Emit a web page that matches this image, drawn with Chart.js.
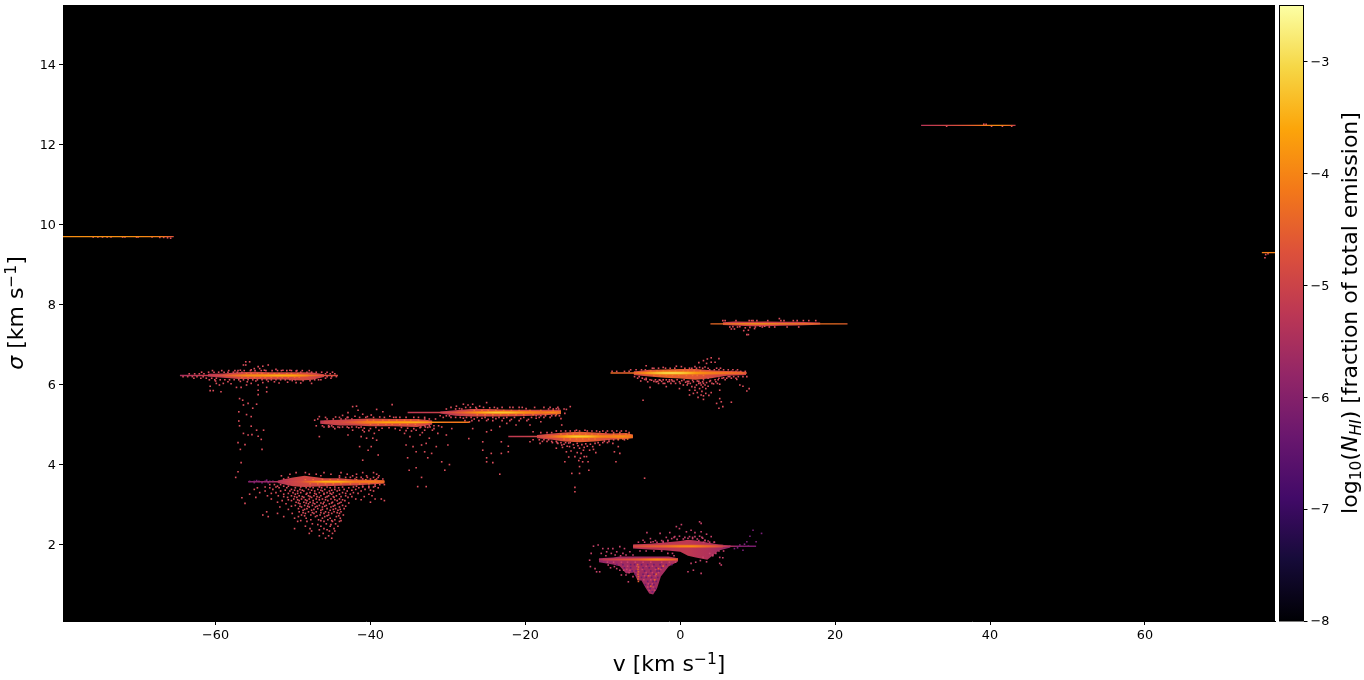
<!DOCTYPE html>
<html>
<head>
<meta charset="utf-8">
<title>sigma vs v</title>
<script src="https://cdn.jsdelivr.net/npm/chart.js@4/dist/chart.umd.min.js"></script>
<style>
  body { margin: 0; background: #fff; width: 1364px; height: 680px; overflow: hidden; position: relative; }
  canvas { position: absolute; top: 0; }
  #histChart { left: 0; }
  #barChart { left: 1276px; }
</style>
</head>
<body>
<canvas id="histChart" width="1364" height="680"></canvas>
<canvas id="barChart" width="88" height="680"></canvas>
<script>
// axis ranges and ticks
const xRange = [-79.7, 76.8];
const yRange = [0.09, 15.49];
const barRange = [-8, -2.5];
const xTicks = [-60, -40, -20, 0, 20, 40, 60];
const yTicks = [2, 4, 6, 8, 10, 12, 14];
const barTicks = [-8, -7, -6, -5, -4, -3];

// inferno colormap stops, evenly spaced over barRange
const inferno = [[0,0,4],[22,11,57],[66,10,104],[106,23,110],[147,38,103],[188,55,84],[221,81,58],[243,120,25],[252,165,10],[246,215,70],[252,255,164]];

// thin isolated lines: v, log N
const sigmaA = 9.7;
const coreV_A = [-79.7, -75, -70, -67, -65.4];
const coreN_A = [-3.9, -3.85, -3.9, -4.1, -4.7];
const sigmaB = 12.48;
const coreV_B = [31.1, 32, 35, 37, 39, 41, 42.5, 43.3];
const coreN_B = [-5.3, -5.2, -4.9, -4.6, -4.2, -3.9, -4.3, -5.2];
const sigmaC = 9.3;
const coreV_C = [75.1, 76.8];
const coreN_C = [-4.1, -4];

// ridge D
const sigmaD = 7.52;
const coreV_D = [3.9, 6, 8, 10, 12, 14, 16, 18, 20, 21.6];
const coreN_D = [-4.4, -4.2, -3.8, -3.6, -3.8, -4, -4.1, -4.3, -4.3, -4.5];
const haloV_D = [5.5, 7, 9, 11, 13, 15, 17, 18.1];
const haloUp_D = [7.56, 7.58, 7.57, 7.58, 7.57, 7.57, 7.56, 7.55];
const haloDown_D = [7.49, 7.48, 7.46, 7.46, 7.47, 7.48, 7.49, 7.5];
const haloN_D = [-5.1, -5.1, -5, -5, -5.1, -5.1, -5.1, -5.2];

// ridge E
const sigmaE = 6.29;
const coreV_E = [-9, -7.5, -6, -4.5, -3, -2, -1, 0, 1, 2, 3.5, 5, 6.5, 8, 8.6];
const coreN_E = [-4.3, -4.5, -4.3, -3.8, -3.2, -3, -2.95, -3.05, -3.3, -3.7, -4, -4.1, -4.2, -4.3, -4.6];
const midV_E = [-6, -4, -2, 0, 2, 4, 6, 8];
const midN_E = [-4.9, -4.1, -3.6, -3.6, -4, -4.2, -4.5, -4.8];
const haloV_E = [-6, -4, -2, 0, 2, 4, 6, 8.5];
const haloUp_E = [6.33, 6.37, 6.38, 6.39, 6.39, 6.36, 6.34, 6.32];
const haloDown_E = [6.24, 6.2, 6.17, 6.15, 6.12, 6.16, 6.22, 6.24];
const haloN_E = [-5, -4.7, -4.4, -4.5, -4.6, -4.8, -5, -5];

// ridge F
const sigmaF = 6.23;
const coreV_F = [-64.6, -62, -60, -58, -56, -54, -52, -50, -48, -46, -44.2];
const coreN_F = [-5.5, -5.2, -5, -4.4, -3.9, -3.8, -3.5, -3.6, -4.1, -4.7, -4.8];
const midV_F = [-59, -56, -53, -50, -48];
const midN_F = [-5, -4.4, -4.2, -4.2, -4.6];
const haloV_F = [-61, -59, -57, -55, -53, -51, -49, -47.5, -46];
const haloUp_F = [6.27, 6.28, 6.31, 6.32, 6.31, 6.31, 6.31, 6.3, 6.26];
const haloDown_F = [6.2, 6.17, 6.14, 6.14, 6.13, 6.13, 6.1, 6.12, 6.19];
const haloN_F = [-5.3, -5.1, -4.9, -4.8, -4.8, -4.9, -4.8, -4.9, -5.1];

// ridge G
const sigmaG = 5.3;
const coreV_G = [-35.2, -32, -30, -28, -26, -24, -22, -20, -18, -16.5, -15.4];
const coreN_G = [-5.2, -5.1, -4.9, -4.4, -3.7, -3.2, -3.3, -3.9, -4.2, -3.9, -4.4];
const midV_G = [-29, -26, -23, -20, -17, -15.4];
const midN_G = [-5, -4.3, -3.9, -4.2, -4.4, -4.3];
const haloV_G = [-31, -29, -27, -25, -23, -21, -19, -17, -15.4];
const haloUp_G = [5.33, 5.36, 5.39, 5.39, 5.38, 5.37, 5.37, 5.37, 5.37];
const haloDown_G = [5.28, 5.22, 5.2, 5.2, 5.2, 5.21, 5.22, 5.24, 5.26];
const haloN_G = [-5.4, -5.1, -4.9, -4.8, -4.7, -4.8, -4.9, -4.9, -4.9];

// ridge H
const sigmaH = 5.06;
const coreV_H = [-46, -44, -42, -40, -38, -36, -34, -32, -30, -28, -27.2];
const coreN_H = [-5, -4.9, -4.5, -4, -3.6, -3.6, -3.5, -3.9, -4.2, -4.1, -4.3];
const midV_H = [-46, -43, -40.5, -38, -35, -32.5];
const midN_H = [-5, -4.9, -4.2, -4.2, -4.2, -4.5];
const haloV_H = [-46.5, -44, -42, -40, -37, -34, -32];
const haloUp_H = [5.1, 5.12, 5.14, 5.15, 5.14, 5.14, 5.1];
const haloDown_H = [5.02, 4.98, 4.98, 4.96, 4.96, 4.94, 5];
const haloN_H = [-5.2, -5, -5, -4.8, -4.8, -4.8, -5];

// ridge I
const sigmaI = 4.7;
const coreV_I = [-22.2, -20, -18, -16.5, -15, -13.5, -12, -10.5, -9, -7.5, -6.1];
const coreN_I = [-5.2, -5.1, -4.9, -4.4, -3.7, -3.2, -3.3, -3.9, -4.1, -3.9, -4.3];
const midV_I = [-18.5, -16, -14, -12, -10, -8, -6.2];
const midN_I = [-5, -4.4, -3.7, -3.8, -4.3, -4.1, -4.2];
const haloV_I = [-18.5, -16.5, -15, -13, -11, -9, -7, -6.1];
const haloUp_I = [4.74, 4.78, 4.8, 4.82, 4.8, 4.78, 4.79, 4.75];
const haloDown_I = [4.66, 4.62, 4.58, 4.56, 4.58, 4.62, 4.64, 4.66];
const haloN_I = [-5.1, -4.9, -4.7, -4.5, -4.6, -4.7, -4.6, -4.6];

// ridge J
const sigmaJ = 3.57;
const coreV_J = [-55.8, -53, -51, -49, -47.5, -46, -44, -42, -40, -38.2];
const coreN_J = [-6, -5.7, -5.1, -4.8, -4.1, -3.5, -3.5, -4.2, -4.1, -4.4];
const midV_J = [-51, -48, -45, -42, -39, -38.2];
const midN_J = [-5.2, -4.7, -4.1, -4.4, -4.3, -4.4];
const haloV_J = [-52, -50, -48.5, -46, -44, -42, -40, -38.2];
const haloUp_J = [3.6, 3.68, 3.72, 3.66, 3.66, 3.63, 3.62, 3.6];
const haloDown_J = [3.54, 3.46, 3.44, 3.46, 3.47, 3.48, 3.5, 3.53];
const haloN_J = [-5.4, -5, -4.9, -4.9, -4.9, -4.9, -4.9, -5];

// ridge K
const sigmaK = 1.96;
const coreV_K = [-6.1, -4, -2, 0, 1.5, 3, 4.5, 6, 7.5, 9.8];
const coreN_K = [-4.9, -4.6, -4.4, -4, -3.9, -4.3, -4.6, -5.2, -6, -6.2];
const midV_K = [-6, -3, 0, 2, 4, 5.5];
const midN_K = [-5, -4.8, -4.4, -4.4, -4.8, -5.2];
const haloV_K = [-6.1, -4, -2, 0, 1, 2, 3.5, 5, 6.5];
const haloUp_K = [2, 2.02, 2.05, 2.09, 2.12, 2.1, 2.05, 2, 1.98];
const haloDown_K = [1.9, 1.88, 1.86, 1.82, 1.72, 1.68, 1.62, 1.85, 1.93];
const haloN_K = [-5.4, -5.3, -5.3, -5.2, -5.2, -5.3, -5.4, -5.6, -5.9];

// ridge L
const sigmaL = 1.63;
const coreV_L = [-10.5, -9, -7, -5.5, -4, -3, -2, -1, -0.3];
const coreN_L = [-5.4, -5, -4.7, -4.5, -4.1, -3.9, -4.1, -4.3, -4.6];
const midV_L = [-10, -7, -4.5, -3, -1, -0.3];
const midN_L = [-5.5, -5.3, -4.9, -4.6, -5, -5.1];
const haloV_L = [-10.5, -8.7, -7.8, -7, -6, -5.5, -5, -4.5, -4, -3.5, -3, -2.5, -1.5, -0.3];
const haloUp_L = [1.66, 1.68, 1.7, 1.7, 1.7, 1.7, 1.7, 1.7, 1.7, 1.7, 1.7, 1.7, 1.7, 1.66];
const haloDown_L = [1.56, 1.5, 1.46, 1.28, 1.3, 1.1, 1.1, 0.93, 0.78, 0.75, 0.9, 1.2, 1.45, 1.58];
const haloN_L = [-5.8, -5.7, -5.6, -5.6, -5.6, -5.6, -5.6, -5.6, -5.6, -5.6, -5.6, -5.6, -5.5, -5.4];

// scattered cells, flat v,sigma pairs
const cellsA = [-75.8,9.69, -75.2,9.69, -74.6,9.69, -74,9.69, -73.5,9.69, -72,9.69, -71.7,9.69, -70.2,9.69, -70,9.69, -68.2,9.69, -67.2,9.68, -66.7,9.68, -66.2,9.67, -65.8,9.66];
const cellsB = [39.2,12.51, 39.5,12.51, 40.2,12.46, 41.6,12.46, 34.4,12.46, 42.8,12.46];
const cellsC = [75.6,9.25, 75.5,9.17, 75.9,9.27];
const cellsD = [6.8,7.45, 6.6,7.39, 7,7.39, 7.7,7.45, 8.8,7.36, 8.2,7.35, 8.8,7.25, 8.6,7.25, 9.6,7.4, 5.5,7.6, 9.2,7.6, 12.8,7.65, 10.3,7.46, 10.9,7.46, 9,7.43, 8.4,7.42];
const cellsE = [4,6.67, 3.5,6.64, 4.5,6.56, 5,6.65, 3,6.6, 2.4,6.55, 3.4,6.53, 4,6.56, -0.5,6.46, 1.9,6.45, 2.5,6.43, -4.4,6.47, 4.7,6.41, 0.15,6.45, -2.2,6.43, -3.4,6.41, 3.2,6.44, 1.2,6.41,
  -4.2,6.07, -3.9,5.93, -3.1,6.07, -1.8,5.95, -1.6,6.07, -2.2,6.03, -0.1,6.07, 0.4,5.99, 0.9,5.99, -0.1,5.9, 1.2,5.86, 1.9,5.86, 2.5,5.9, 3.3,5.9, 2.9,6.07, 3.6,6.16, 1.7,6.07, 2.1,5.99, 2.7,5.99, 3.2,5.99, 1.2,5.74, 2.3,5.68, 2.7,5.74, 3,5.63, 3.3,5.78, 4,5.8, 5.1,5.86, 5.1,5.65, 5.3,5.57, 4.7,5.53, 6.6,5.56, 5,5.41, 5.5,5.45, 7.3,6.13, 7.7,5.99, 8.1,5.96, 8.9,5.9, 8.6,5.84, 5.1,6.01, 4.6,6.07, -4.8,5.61, -5.1,6.09, 6.4,6.2,
  -4.6,6.13, -3.7,6.11, -2.6,6.11, -1.4,6.12, -1,6.09, -0.6,6.03, 0.2,6.1, 0.7,6.06, 1.3,6.03, 1.6,6.11, 2.2,6.09, 2.6,6.04, 3,6.12, 3.4,6.05, 3.9,6.1, 4.3,6.02, 4.9,6.12, 5.6,6.17, 1.5,5.95, 1.9,5.93, 2.9,5.94, 3.6,5.96, 2.2,5.8, 2.8,5.83, 1.7,5.78, 3.7,5.73, 3,5.72];
const cellsF = [-56.1,6.57, -55.6,6.57, -56.4,6.49, -56.1,6.49, -55,6.4, -54.5,6.45, -54.3,6.4, -53.2,6.49, -53.9,6.46, -53.7,6.36, -52.2,6.38, -51.3,6.36, -57.5,6.35, -56.8,6.36, -55.4,6.37, -50.4,6.36, -49.6,6.34,
  -60.7,5.96, -60.7,5.85, -60.3,5.85, -59.5,5.99, -59.3,5.82, -59.9,6.03, -59,6.03, -58.4,6.07, -57.3,5.93, -56.7,5.93, -56,5.99, -55.4,6.03, -54.5,5.99, -54.5,5.86, -53.4,5.93, -53.4,5.82, -54.5,5.75, -49.6,6.05, -48.7,6.1, -47.8,6.1, -60,6.09, -58,6.02, -56.8,6.08, -55.9,6.07, -54.8,6.09, -53.9,6.05, -53.2,6.08, -52.4,6.07, -51.8,6.04, -50.7,6.06, -50.1,6.1, -49,6.04, -47.6,6.03, -46.4,6.12,
  -56.9,5.65, -56.5,5.61, -56.4,5.49, -55.8,5.53, -55.2,5.41, -54.7,5.51, -57,5.32, -56,5.25, -55.4,5.2, -57,5.09, -56.9,4.97, -55.4,4.96, -54.7,4.86, -53.8,4.86, -56.4,4.78, -55.8,4.74, -55.3,4.75, -54.5,4.71, -54.1,4.63, -57.1,4.55, -56.2,4.5, -56.8,4.38, -54,4.38, -56.7,4.05, -57.1,3.82, -57.4,3.68, -56.6,3.17, -56.2,3.03];
const cellsH = [-42.3,5.45, -41.8,5.46, -42.9,5.3, -41.6,5.36, -41,5.26, -39.2,5.38, -38.4,5.32, -37.2,5.5, -39.9,5.24, -37.5,5.21, -46.6,5.2, -47.2,5.11, -42.9,5.18, -42,5.21, -44.5,5.19, -43.6,5.23, -40.4,5.2, -38.8,5.19, -36.7,5.18,
  -45.3,4.95, -44.6,4.9, -46.6,4.7, -42.9,4.74, -41.2,4.7, -40.5,4.66, -39.7,4.66, -39.2,4.61, -42.3,4.86, -40.8,4.82, -41.4,4.45, -41,4.11, -40.3,4.36, -39.9,4.45, -39,4.24, -36.2,4.86, -35.6,4.78, -34.9,4.7, -34.1,4.86, -33.6,4.74, -33,4.86, -32.4,4.66, -31.3,4.78, -30.2,4.74, -35.4,4.49, -34.5,4.45, -33.4,4.49, -32.8,4.53, -31.5,4.45, -30,4.49, -33,4.32, -32.6,4.17, -32.1,4.28, -34.1,4.32, -35.2,4.17, -29.8,4, -35,3.86, -34.1,3.92, -33.4,3.68, -32.8,3.45, -33.9,3.45, -30.4,3.86, -30.8,4.07, -39.5,4.78,
  -44,4.93, -42.8,4.92, -41.5,4.92, -40.8,4.91, -40,4.9, -39.3,4.93, -38.5,4.91, -37.6,4.92, -36.8,4.9, -36,4.93, -35.2,4.91, -34.4,4.9, -33.6,4.92, -32.6,4.93, -31.8,4.9, -41,4.86, -40.2,4.85, -38.9,4.86, -35.4,4.85, -34.7,4.84, -33.3,4.8, -32,4.86, -29.5,4.9, -30.8,4.94];
const cellsG = [-28.9,5.46, -28,5.51, -27.4,5.49, -26.8,5.51, -25.9,5.46, -25,5.55, -28.5,5.4, -26.3,5.4, -22,5.43, -19.9,5.4, -16,5.4, -14.7,5.38, -14.2,5.45, -14.9,5.28, -15.4,5.15, -15.3,4.99, -27.7,5.43, -24.6,5.42, -23.6,5.41,
  -27.2,5.07, -26.8,4.9, -25,4.82, -24.4,4.86, -23.3,4.95, -22.4,5.03, -21.2,4.99, -19.4,4.99, -19,4.82, -18,5.07, -27.3,4.65, -25.5,4.57, -25.5,4.36, -25,4.17, -25,4.07, -24.2,4.05, -24.4,4.28, -23.1,4.57, -23.1,4.28, -22.2,4.32, -22.2,4.46, -23.3,3.76,
  -28,5.16, -26.6,5.14, -25.6,5.16, -24.8,5.13, -23.8,5.15, -22.8,5.16, -21.8,5.13, -20.6,5.15, -19.6,5.13, -18.6,5.16];
const cellsI = [-16,4.41, -15.3,4.49, -14.7,4.32, -14.3,4.45, -13.6,4.2, -13,4.41, -12.8,4.28, -12.1,4.2, -11.7,4.36, -11.3,4.45, -10.4,4.49, -12.6,4.07, -13,3.95, -11.9,4.07, -14.9,4.07, -14,3.78, -13,3.78, -11.8,3.86, -13.6,3.43, -13.6,3.32, -8.7,4.53, -8.5,4.32, -8.3,4.07, -7.8,4.28, -8,4.45, -19.4,4.57, -18.1,4.53, -12.3,4.86, -13.4,4.86, -10.4,4.82, -4.6,3.66,
  -15.8,4.53, -15,4.51, -14.4,4.54, -13.8,4.5, -13.3,4.53, -12.7,4.5, -12.2,4.52, -11.6,4.51, -11,4.53, -15.2,4.43, -14.6,4.46, -13.7,4.42, -13.2,4.47, -12.4,4.43, -12,4.46, -11.2,4.38, -14.1,4.34, -13.3,4.3, -12.5,4.36, -12.9,4.16, -12.4,4.2, -13.1,4.1, -14.4,4.19, -10.9,4.3];
const cellsK = [0.15,2.5, 2.5,2.57, 2.7,2.53, -0.5,2.45, -0.1,2.4, 0.8,2.32, 1.4,2.36, 1.9,2.3, 2.7,2.32, 3.4,2.26, 1.9,2.2, 2.5,2.21, -0.1,2.21, -0.7,2.2, -2.6,2.28, -4.3,2.3, -3.85,2.15, -3.5,2.07, -4.8,2.11, -1.35,2.3, -1.1,2.15, 1.2,2.2, 4,2.2, 3.2,2.11,
  5.1,1.68, 5.5,1.67, 5.1,1.53, 5.3,1.49, 1.4,1.53, 1,1.32, 1.7,1.36, 2.7,1.28, 3.4,1.57, 2.95,1.68, 4.2,1.74, 2.6,1.6, 2,1.56,
  0.4,2.14, 1,2.16, 1.6,2.15, 2.2,2.14, 2.9,2.16, -0.4,2.13, -1.6,2.1, -2.2,2.08, 3.6,2.09, 4.4,2.06];
const cellsL = [-11.2,1.96, -10.6,1.99, -11.5,1.78, -11.7,1.61, -11.6,1.45, -11,1.4, -10.4,1.32, -10.8,1.32, -10,1.9, -9.3,1.9, -8.7,1.9, -7.8,1.95, -7.2,1.9, -9.5,1.82, -8.9,1.78, -8.2,1.82, -7.4,1.78, -6.5,1.82, -6.1,1.74, -10.2,1.78, -9.6,1.72, -8.4,1.74, -7.7,1.72, -7,1.74,
  -9.3,1.49, -8.5,1.45, -7.8,1.36, -7.6,1.24, -7,1.24, -6.7,1.07, -6.5,1.36, -6.1,1.2, -9,1.42, -8.2,1.4, -7.3,1.36];
const cellsStripe = [-5.5,1.5, -5.4,1.44, -5.45,1.38, -5.4,1.32, -5.45,1.26, -5.4,1.2, -5.45,1.14, -5.4,1.08, -3.3,1.12, -3.1,1.26, -4.1,1.22, -3.8,0.96, -2.8,1.4, -2.2,1.46];
const cellsTailK = [6.4,1.96, 7,1.9, 7.7,1.99, 8.1,1.86, 8.6,2.07, 8.8,1.96, 9,2.21, 9.4,2.36, 9.8,2.07, 10.5,2.28, 8.3,2.01, 7.4,1.92];
const cellsTailJ = [-55.6,3.58, -55,3.58, -54.4,3.58, -53.6,3.58, -53,3.58, -52.6,3.58, -55,3.55, -54,3.55, -53.2,3.55, -54.7,3.6, -53.4,3.61];

// cell rows, [sigma, [v, ...]]
const rowsJ = [
  [3.8, [-49.6, -48.4, -46, -43.8, -41, -39.6]],
  [3.76, [-50.4, -47.9, -47, -45.1, -43, -41.8, -39.2]],
  [3.72, [-51.5, -46.4, -44, -42.3, -40.5, -38.9]],
  [3.68, [-50.6, -44, -43.2, -42.6, -41.8, -41.2, -40.4, -39.6, -39]],
  [3.64, [-51.2, -42, -41, -40, -39.2, -38.4]],
  [3.5, [-53, -52.4, -51.6, -39.4, -38.8, -38.2]],
  [3.46, [-52, -51.2, -50.6, -41.8, -41, -40.2, -39.4]],
  [3.44, [-53.6, -52.2, -49, -47.8, -46.6, -45.6, -44.6, -43.6, -42.2, -41, -39.6]],
  [3.42, [-54.6, -53, -51.8, -50.8, -49.7, -48.3, -47.4, -46.3, -45.2, -44.1, -42.8, -41.5, -40.2, -39]],
  [3.38, [-55, -52.6, -50.2, -49.1, -48, -46.8, -45.9, -44.6, -43.4, -41.9, -40.7]],
  [3.36, [-51, -49.8, -48.8, -47.6, -46.4, -45, -44, -42.4, -40]],
  [3.34, [-53.6, -51.6, -50.4, -49.4, -48.6, -47.2, -46.2, -45.3, -44.3, -43, -41.2, -39.6]],
  [3.3, [-54.3, -52.2, -50, -49, -47.8, -46.6, -45.6, -44.8, -43.6, -42.2]],
  [3.28, [-52.8, -50.6, -49.4, -48.2, -47.2, -46, -45.2, -43.2, -41.6]],
  [3.26, [-55.6, -51.2, -49.7, -48.3, -47, -46, -45, -44, -42.6, -40.2]],
  [3.22, [-53.3, -51.9, -50.2, -49.2, -48, -47.3, -46.4, -45.4, -44.4, -43.2, -39.8]],
  [3.2, [-51.2, -49.8, -48.8, -47.8, -46.9, -45.6, -44.8, -43.8, -42.4, -40.8]],
  [3.18, [-54.8, -50.7, -49.5, -48.6, -47.6, -46.6, -45.8, -44.7, -42.9]],
  [3.14, [-52.8, -49.9, -48.9, -47.9, -47, -46.2, -45.1, -44, -41.9, -39.4, -38.6]],
  [3.12, [-50.6, -49.4, -48.4, -46.6, -45.8, -44.6, -43.6, -41.2]],
  [3.1, [-51.4, -50.2, -49.2, -48.2, -47.4, -45.5, -44.3, -43.3, -38.2]],
  [3.06, [-52, -49.6, -48.6, -47.8, -46.9, -46, -44.9, -43.8, -40]],
  [3.04, [-49.3, -48.3, -47.4, -46.4, -45, -44, -42.8]],
  [3.02, [-50.9, -49.1, -48, -47.2, -46.1, -45.3, -44.2]],
  [2.98, [-49.7, -48.5, -47.5, -46.6, -45.7, -44.6, -43.6]],
  [2.96, [-50.2, -49.1, -48.1, -46.9, -45.9, -44.8, -43.2]],
  [2.94, [-51.7, -48.9, -47.9, -47.1, -46.2, -45.1, -44]],
  [2.9, [-49.3, -48.2, -46.8, -45.6, -44.5, -43.4]],
  [2.88, [-50.6, -48.5, -47.3, -46.2, -44.8, -43.9]],
  [2.86, [-48.7, -47.6, -46.4, -45.2, -44.2]],
  [2.82, [-53.4, -49.2, -48, -47, -45.8, -44.7, -43.8]],
  [2.8, [-48.7, -47.5, -46.4, -45.4, -44.3]],
  [2.78, [-52, -50.1, -48.4, -47.3, -46, -45, -44]],
  [2.74, [-53.9, -48.9, -47.7, -46.5, -45.4, -43.5]],
  [2.72, [-48.5, -46.9, -45.6, -44.1]],
  [2.7, [-53.2, -51.2, -49.3, -47.1, -45.9, -44.4]],
  [2.66, [-49.8, -48.3, -46.2, -45.2, -43.9]],
  [2.62, [-47.7, -46.7, -45.5, -44.6]],
  [2.6, [-49, -46.4, -45, -43.8]],
  [2.58, [-49.4, -48.2, -46, -44.9, -44]],
  [2.52, [-47.5, -45.7, -44.5]],
  [2.5, [-46.8, -45.1]],
  [2.46, [-48.4, -46.4, -45.2, -44.2]],
  [2.4, [-49.8, -47.8, -46, -44.7]],
  [2.37, [-46.6, -45.6]],
  [2.34, [-47.6, -45.3, -44.6]],
  [2.28, [-47.9, -46.1, -44.9]],
  [2.22, [-46.6, -45.4]],
  [2.16, [-45.8, -45]]
];
const edgeRowsD = [
  [7.6, [5.8, 7.2, 8.9, 9.4, 9.9, 11.3, 13, 13.4, 14.6, 15.1, 15.9, 16.6, 17.5]],
  [7.44, [6.4, 7.4, 9.7, 10.6, 11.5, 12.2, 13.8, 15.3]]
];
const edgeRowsE = [
  [6.41, [-3.6, -2.8, -1.9, -1.3, -0.7, 0.6, 1.5, 2.1, 2.9, 3.6, 5.2]],
  [6.37, [-6.4, -5.7, -5, -4.5, 3.8, 4.4, 5, 5.6, 6.2, 6.8, 7.4]],
  [6.33, [-8.8, -8.2, -7.2, -6.6, 6.6, 7.2, 7.8, 8.4]],
  [6.2, [-5.9, -5.3, 6.2, 6.9, 7.5, 8.1, 8.6]],
  [6.16, [-5.5, -4.9, -4.4, 5, 5.4, 6, 6.6, 7.2]],
  [6.12, [-4.4, -3.9, -3.2, -2.7, -2.2, -1.8, -1.1, -0.4, 0.5, 4.5, 5.8]],
  [6.08, [-3.4, -2.9, -2.4, -1.4, -0.8, 0.9, 1.1, 2.4, 3.8]],
  [6.03, [-2.8, -2, -1.2, 0, 1, 2.4, 3, 4.1, 4.8]]
];
const edgeRowsF = [
  [6.35, [-60.4, -59.2, -58.3, -57.1, -56.3, -55.5, -54.9, -54.1, -53.5, -52.7, -52, -51.5, -50.8, -50.2, -49.5, -48.8, -47.9]],
  [6.31, [-61.8, -60.9, -60.2, -59.6, -58.9, -58.4, -57.7, -57.2, -56.6, -49, -48.2, -47.6, -47, -46.3, -45.6, -44.9]],
  [6.27, [-63.4, -62.7, -62.1, -61.5, -45.8, -45.2, -44.6]],
  [6.2, [-64.2, -63.6, -63, -62.4, -61.6, -45.6, -45, -44.4]],
  [6.16, [-62.8, -61.9, -61.2, -60.5, -59.9, -45.8, -45.1]],
  [6.12, [-60.8, -60.1, -59.4, -58.8, -58.2, -57.6, -57, -56.4, -55.8, -55.2, -54.6, -54, -53.4, -52.8, -52.2, -51.6, -51, -50.4, -49.7, -47.2, -46.7]]
];
const edgeRowsG = [
  [5.43, [-29.6, -27.1, -26.4, -25.4, -24, -23, -21.6, -20.8, -20.4, -18.8, -17.6, -16.8, -15.8]],
  [5.39, [-30.2, -29, -28.2, -17, -16.4, -15.7, -15]],
  [5.22, [-31, -30.2, -29.8, -18.6, -18, -17.4, -16.6, -16.1, -15.6]],
  [5.18, [-30.6, -29.6, -29, -28.4, -27.6, -27, -26.2, -25.2, -24.2, -23.4, -22.4, -21.4, -20.2, -19.2, -18.2, -17.6, -16.8]],
  [5.1, [-27.8, -26.9, -26, -25, -24.2, -23, -22, -20.8, -19.8]]
];
const edgeRowsH = [
  [5.18, [-45.8, -44, -43, -41.4, -40.6, -39.6, -38.2, -37, -36.2, -35.4, -34.4, -33.8, -33]],
  [5.14, [-46.8, -45.6, -44.8, -43.8, -43.2, -42.4, -33, -32.4, -31.6]],
  [4.97, [-47, -46.2, -45.4, -45, -33, -32.4, -31.8, -31.2]],
  [4.94, [-46, -45.4, -44.8, -44.2, -43.6, -43, -42.4, -41.8, -41.2, -33.5, -32.9, -32.3]]
];
const edgeRowsI = [
  [4.84, [-16, -15.4, -14.8, -14.2, -13.6, -13, -12, -11.4, -10.8, -10, -9.4, -8.8, -8.2, -7.6, -7]],
  [4.8, [-18, -17.2, -16.6, -9.6, -8.6, -7.8, -6.6]],
  [4.62, [-19, -18.2, -17.6, -17, -9.8, -9.2, -8.6, -8, -7.2]],
  [4.58, [-17.8, -17.2, -16.6, -16, -9.8, -9.2]],
  [4.55, [-16.5, -15.9, -15.4, -14.8, -14.2, -10.6, -10, -9.4]]
];
// brighter cells next to the ridge cores
const brightRows = [
  [6.27, [-56, -55.4, -54.6, -54, -53.2, -52.4, -51.8, -50.8, -50.2, -49.4]],
  [6.19, [-56.6, -55.8, -55, -54.2, -53.6, -52.8, -52, -51.4, -50.6, -49.8, -49.2]],
  [6.34, [-3.8, -3, -2.2, -1.4, -0.6, 0.4, 1, 1.8, 2.6]],
  [6.23, [-3.4, -2.6, -1.8, -1, -0.2, 0.8, 1.6, 2.2, 3]],
  [5.35, [-26.6, -25.6, -24.8, -23.8, -22.8, -21.8, -20.8, -19.4, -18, -16.4]],
  [5.25, [-26.2, -25.2, -24.2, -23.2, -22.2, -21.2, -20.2, -19, -17.4, -16]],
  [5.11, [-40.4, -39.6, -38.4, -37.6, -36.6, -35.6, -34.8, -33.8]],
  [5.01, [-40, -39, -38, -37.2, -36.2, -35.2, -34.2]],
  [4.76, [-15.4, -14.6, -13.8, -13, -12.2, -11.4, -10.6, -8.6, -7.8, -7, -6.6]],
  [4.64, [-15, -14.2, -13.4, -12.6, -11.8, -11, -8, -7.4, -6.8]],
  [3.62, [-48.4, -47.4, -46.2, -45.2, -44.2, -43.2, -41.8, -40.6, -39.4]],
  [3.52, [-47.8, -46.8, -45.8, -44.8, -43.8, -42.6, -41.4, -40.2]]
];
// pink and dark cells inside the low velocity clump
const pinkRowsKL = [
  [2.18, [-1.8, -0.8, 0.6, 1.6, 2.8]],
  [2.1, [-3.2, -2.4, -1.6, 2.4, 3.2]],
  [2.06, [-5.4, -4.6, -3.8, -3, -2.2, 3, 3.8, 4.4]],
  [1.84, [-5.2, -4.4, -3.4, -2.4, 5, 5.6]],
  [1.78, [-1.6, -1, 3.8, 4.6]],
  [1.72, [-0.8, 4.2]],
  [1.56, [-9.4, -8.6, -7.6, -6.8, -5.8, -4.8, -3.8, -2.4, -1.4, -0.6]],
  [1.46, [-6.8, -5.6, -4.4, -3.6, -2.2]],
  [1.38, [-6.9, -4.9, -3.2, -2.5]],
  [1.3, [-6.6, -4.4, -3.6, -2.8]],
  [1.22, [-4.6, -3.9, -3.2]],
  [1.12, [-4.7, -3.8, -3.3]],
  [1.02, [-4.1, -3.6]],
  [0.94, [-4.2, -3.5]],
  [0.86, [-4, -3.3]]
];
const darkRowsL = [
  [1.5, [-8.2, -7.4, -6.4, -5.9, -5, -4.2, -3.4, -2.6, -1.8, -1.1]],
  [1.42, [-7.2, -6.4, -4.8, -4, -3.1, -2.4]],
  [1.34, [-6.2, -5.7, -4.6, -3.8, -3, -2.7]],
  [1.26, [-5.8, -4.8, -4.2, -3.4]],
  [1.18, [-5, -4.4, -3.7, -2.9]],
  [1.08, [-4.2, -3.5, -3.1]],
  [1, [-4.5, -3.9, -3.4]],
  [0.9, [-3.9, -3.2]],
  [0.82, [-3.6]]
];

// cell colours
const cellColor = '#dc4e5c';
const pinkColor = '#c8426a';
const darkColor = '#6e1c6e';
const brightColor = '#f0702c';
const stripeColor = '#e8602f';
const tailColor = '#7a2078';

function infernoAt(n) {
  const t = Math.min(Math.max((n - barRange[0]) / (barRange[1] - barRange[0]), 0), 1) * (inferno.length - 1);
  const i = Math.min(Math.floor(t), inferno.length - 2);
  const f = t - i;
  const c = inferno[i].map((a, k) => Math.round(a + (inferno[i + 1][k] - a) * f));
  return 'rgb(' + c.join(',') + ')';
}

// horizontal gradient through the log N values of a band
function bandGradient(ctx, vs, ns) {
  const chart = ctx.chart;
  if (!chart.chartArea) return infernoAt(ns[0]);
  const x0 = chart.scales.x.getPixelForValue(vs[0]);
  const x1 = chart.scales.x.getPixelForValue(vs[vs.length - 1]);
  const g = chart.ctx.createLinearGradient(x0, 0, x1, 0);
  vs.forEach((v, i) => g.addColorStop((v - vs[0]) / (vs[vs.length - 1] - vs[0]), infernoAt(ns[i])));
  return g;
}

const datasets = [];

function addLine(vs, sigma, ns, width) {
  datasets.push({
    data: vs.map(v => ({ x: v, y: sigma })),
    showLine: true, pointRadius: 0, borderWidth: width,
    borderColor: ctx => bandGradient(ctx, vs, ns)
  });
}

function addHalo(vs, up, down, ns) {
  datasets.push({ data: vs.map((v, i) => ({ x: v, y: up[i] })), showLine: true, pointRadius: 0, borderWidth: 0 });
  datasets.push({
    data: vs.map((v, i) => ({ x: v, y: down[i] })),
    showLine: true, pointRadius: 0, borderWidth: 0, fill: '-1',
    backgroundColor: ctx => bandGradient(ctx, vs, ns)
  });
}

function addCells(points, color) {
  datasets.push({
    data: points, pointStyle: 'rect', pointRadius: 1.15, pointBorderWidth: 0,
    backgroundColor: color
  });
}

function pairs(flat) {
  const out = [];
  for (let i = 0; i < flat.length; i += 2) out.push({ x: flat[i], y: flat[i + 1] });
  return out;
}

function rows(list) {
  return list.flatMap(r => r[1].map(v => ({ x: v, y: r[0] })));
}

// paint order: halos, then cells, then the ridge lines
addHalo(haloV_D, haloUp_D, haloDown_D, haloN_D);
addHalo(haloV_E, haloUp_E, haloDown_E, haloN_E);
addHalo(haloV_F, haloUp_F, haloDown_F, haloN_F);
addHalo(haloV_G, haloUp_G, haloDown_G, haloN_G);
addHalo(haloV_H, haloUp_H, haloDown_H, haloN_H);
addHalo(haloV_I, haloUp_I, haloDown_I, haloN_I);
addHalo(haloV_J, haloUp_J, haloDown_J, haloN_J);
addHalo(haloV_L, haloUp_L, haloDown_L, haloN_L);
addHalo(haloV_K, haloUp_K, haloDown_K, haloN_K);

addCells(pairs(cellsA), cellColor);
addCells(pairs(cellsB), cellColor);
addCells(pairs(cellsC), cellColor);
addCells(pairs(cellsD), cellColor);
addCells(pairs(cellsE), cellColor);
addCells(pairs(cellsF), cellColor);
addCells(pairs(cellsG), cellColor);
addCells(pairs(cellsH), cellColor);
addCells(pairs(cellsI), cellColor);
addCells(rows(rowsJ), cellColor);
addCells(rows(edgeRowsD), cellColor);
addCells(rows(edgeRowsE), cellColor);
addCells(rows(edgeRowsF), cellColor);
addCells(rows(edgeRowsG), cellColor);
addCells(rows(edgeRowsH), cellColor);
addCells(rows(edgeRowsI), cellColor);
addCells(rows(brightRows), brightColor);
addCells(pairs(cellsK), pinkColor);
addCells(pairs(cellsL), pinkColor);
addCells(rows(pinkRowsKL), pinkColor);
addCells(rows(darkRowsL), darkColor);
addCells(pairs(cellsStripe), stripeColor);
addCells(pairs(cellsTailK), tailColor);
addCells(pairs(cellsTailJ), tailColor);

addLine(midV_E, sigmaE, midN_E, 3);
addLine(midV_F, sigmaF, midN_F, 3);
addLine(midV_G, sigmaG, midN_G, 3);
addLine(midV_H, sigmaH, midN_H, 3);
addLine(midV_I, sigmaI, midN_I, 3);
addLine(midV_J, sigmaJ, midN_J, 3);
addLine(midV_K, sigmaK, midN_K, 3);
addLine(midV_L, sigmaL, midN_L, 3);

addLine(coreV_A, sigmaA, coreN_A, 1.3);
addLine(coreV_B, sigmaB, coreN_B, 1.3);
addLine(coreV_C, sigmaC, coreN_C, 1.3);
addLine(coreV_D, sigmaD, coreN_D, 1.3);
addLine(coreV_E, sigmaE, coreN_E, 1.5);
addLine(coreV_F, sigmaF, coreN_F, 1.5);
addLine(coreV_G, sigmaG, coreN_G, 1.5);
addLine(coreV_H, sigmaH, coreN_H, 1.5);
addLine(coreV_I, sigmaI, coreN_I, 1.5);
addLine(coreV_J, sigmaJ, coreN_J, 1.5);
addLine(coreV_K, sigmaK, coreN_K, 1.5);
addLine(coreV_L, sigmaL, coreN_L, 1.5);

// first dataset in the array has to paint first
datasets.forEach((d, i) => { d.order = datasets.length - i; });

const tickFont = { family: '"DejaVu Sans"', size: 12.8 };
const minusLabel = v => String(v).replace('-', '\u2212');

// axis titles, drawn run by run for the sub and superscripts
const xTitleRuns = [{ t: 'v [km s', s: 22 }, { t: '\u22121', s: 15.5, d: -7 }, { t: ']', s: 22 }];
const yTitleRuns = [{ t: '\u03C3', s: 22, i: true }, { t: ' [km s', s: 22 }, { t: '\u22121', s: 15.5, d: -7 }, { t: ']', s: 22 }];
const barTitleRuns = [
  { t: 'log', s: 22 },
  { t: '10', s: 15.5, d: 4 },
  { t: '(', s: 22 },
  { t: 'N', s: 22, i: true },
  { t: 'HI', s: 15.5, d: 4, i: true },
  { t: ') [fraction of total emission]', s: 22 }
];

function drawRuns(c, runs, cx, cy, rotated) {
  c.save();
  c.translate(cx, cy);
  if (rotated) c.rotate(-Math.PI / 2);
  c.fillStyle = '#000';
  c.textBaseline = 'alphabetic';
  const fontOf = r => (r.i ? 'italic ' : '') + r.s + 'px "DejaVu Sans"';
  let total = 0;
  runs.forEach(r => { c.font = fontOf(r); total += c.measureText(r.t).width; });
  let x = -total / 2;
  runs.forEach(r => {
    c.font = fontOf(r);
    c.fillText(r.t, x, r.d || 0);
    x += c.measureText(r.t).width;
  });
  c.restore();
}

const blackPlot = {
  id: 'blackPlot',
  beforeDatasetsDraw(chart) {
    const a = chart.chartArea;
    chart.ctx.fillStyle = '#000';
    chart.ctx.fillRect(a.left, a.top, a.width, a.height);
  },
  afterDraw(chart) {
    drawRuns(chart.ctx, xTitleRuns, 669, 671, false);
    drawRuns(chart.ctx, yTitleRuns, 23, 313, true);
  }
};

function noEndPadding(axis) {
  axis.paddingTop = 0;
  axis.paddingBottom = 0;
  axis.paddingLeft = 0;
  axis.paddingRight = 0;
}

new Chart(document.getElementById('histChart'), {
  type: 'scatter',
  data: { datasets: datasets },
  plugins: [blackPlot],
  options: {
    responsive: false,
    animation: false,
    events: [],
    layout: { padding: { top: 5, right: 89, left: 0, bottom: 0 } },
    plugins: { legend: { display: false }, tooltip: { enabled: false } },
    scales: {
      x: {
        type: 'linear', min: xRange[0], max: xRange[1],
        afterBuildTicks: axis => { axis.ticks = xTicks.map(v => ({ value: v })); },
        afterFit: axis => { axis.height = 59; noEndPadding(axis); },
        border: { color: '#000' },
        grid: { drawOnChartArea: false, color: '#000', tickLength: 4 },
        ticks: { color: '#000', font: tickFont, maxRotation: 0, padding: 3, autoSkip: false, callback: minusLabel }
      },
      y: {
        type: 'linear', min: yRange[0], max: yRange[1],
        afterBuildTicks: axis => { axis.ticks = yTicks.map(v => ({ value: v })); },
        afterFit: axis => { axis.width = 63; noEndPadding(axis); },
        border: { color: '#000' },
        grid: { drawOnChartArea: false, color: '#000', tickLength: 4 },
        ticks: { color: '#000', font: tickFont, padding: 3, labelOffset: 1, autoSkip: false, callback: minusLabel }
      }
    }
  }
});

const barFrame = {
  id: 'barFrame',
  afterDraw(chart) {
    const c = chart.ctx;
    const a = chart.chartArea;
    c.save();
    c.strokeStyle = '#000';
    c.lineWidth = 1;
    c.strokeRect(a.left, a.top, a.width, a.height);
    c.restore();
    drawRuns(c, barTitleRuns, 81, 313, true);
  }
};

new Chart(document.getElementById('barChart'), {
  type: 'bar',
  data: {
    labels: [''],
    datasets: [{
      data: [barRange],
      barPercentage: 1,
      categoryPercentage: 1,
      borderWidth: 0,
      backgroundColor: ctx => {
        const chart = ctx.chart;
        if (!chart.chartArea) return '#000';
        const g = chart.ctx.createLinearGradient(0, chart.chartArea.bottom, 0, chart.chartArea.top);
        inferno.forEach((c, i) => g.addColorStop(i / (inferno.length - 1), 'rgb(' + c.join(',') + ')'));
        return g;
      }
    }]
  },
  plugins: [barFrame],
  options: {
    responsive: false,
    animation: false,
    events: [],
    layout: { padding: { top: 5.5, bottom: 59, left: 3.5, right: 0 } },
    plugins: { legend: { display: false }, tooltip: { enabled: false } },
    scales: {
      x: { display: false },
      y: {
        position: 'right', min: barRange[0], max: barRange[1],
        afterBuildTicks: axis => { axis.ticks = barTicks.map(v => ({ value: v })); },
        afterFit: axis => { axis.width = 60.5; noEndPadding(axis); },
        border: { display: false },
        grid: { drawOnChartArea: false, color: '#000', tickLength: 4 },
        ticks: { color: '#000', font: tickFont, padding: 3, labelOffset: 1, autoSkip: false, callback: minusLabel }
      }
    }
  }
});
</script>
</body>
</html>
